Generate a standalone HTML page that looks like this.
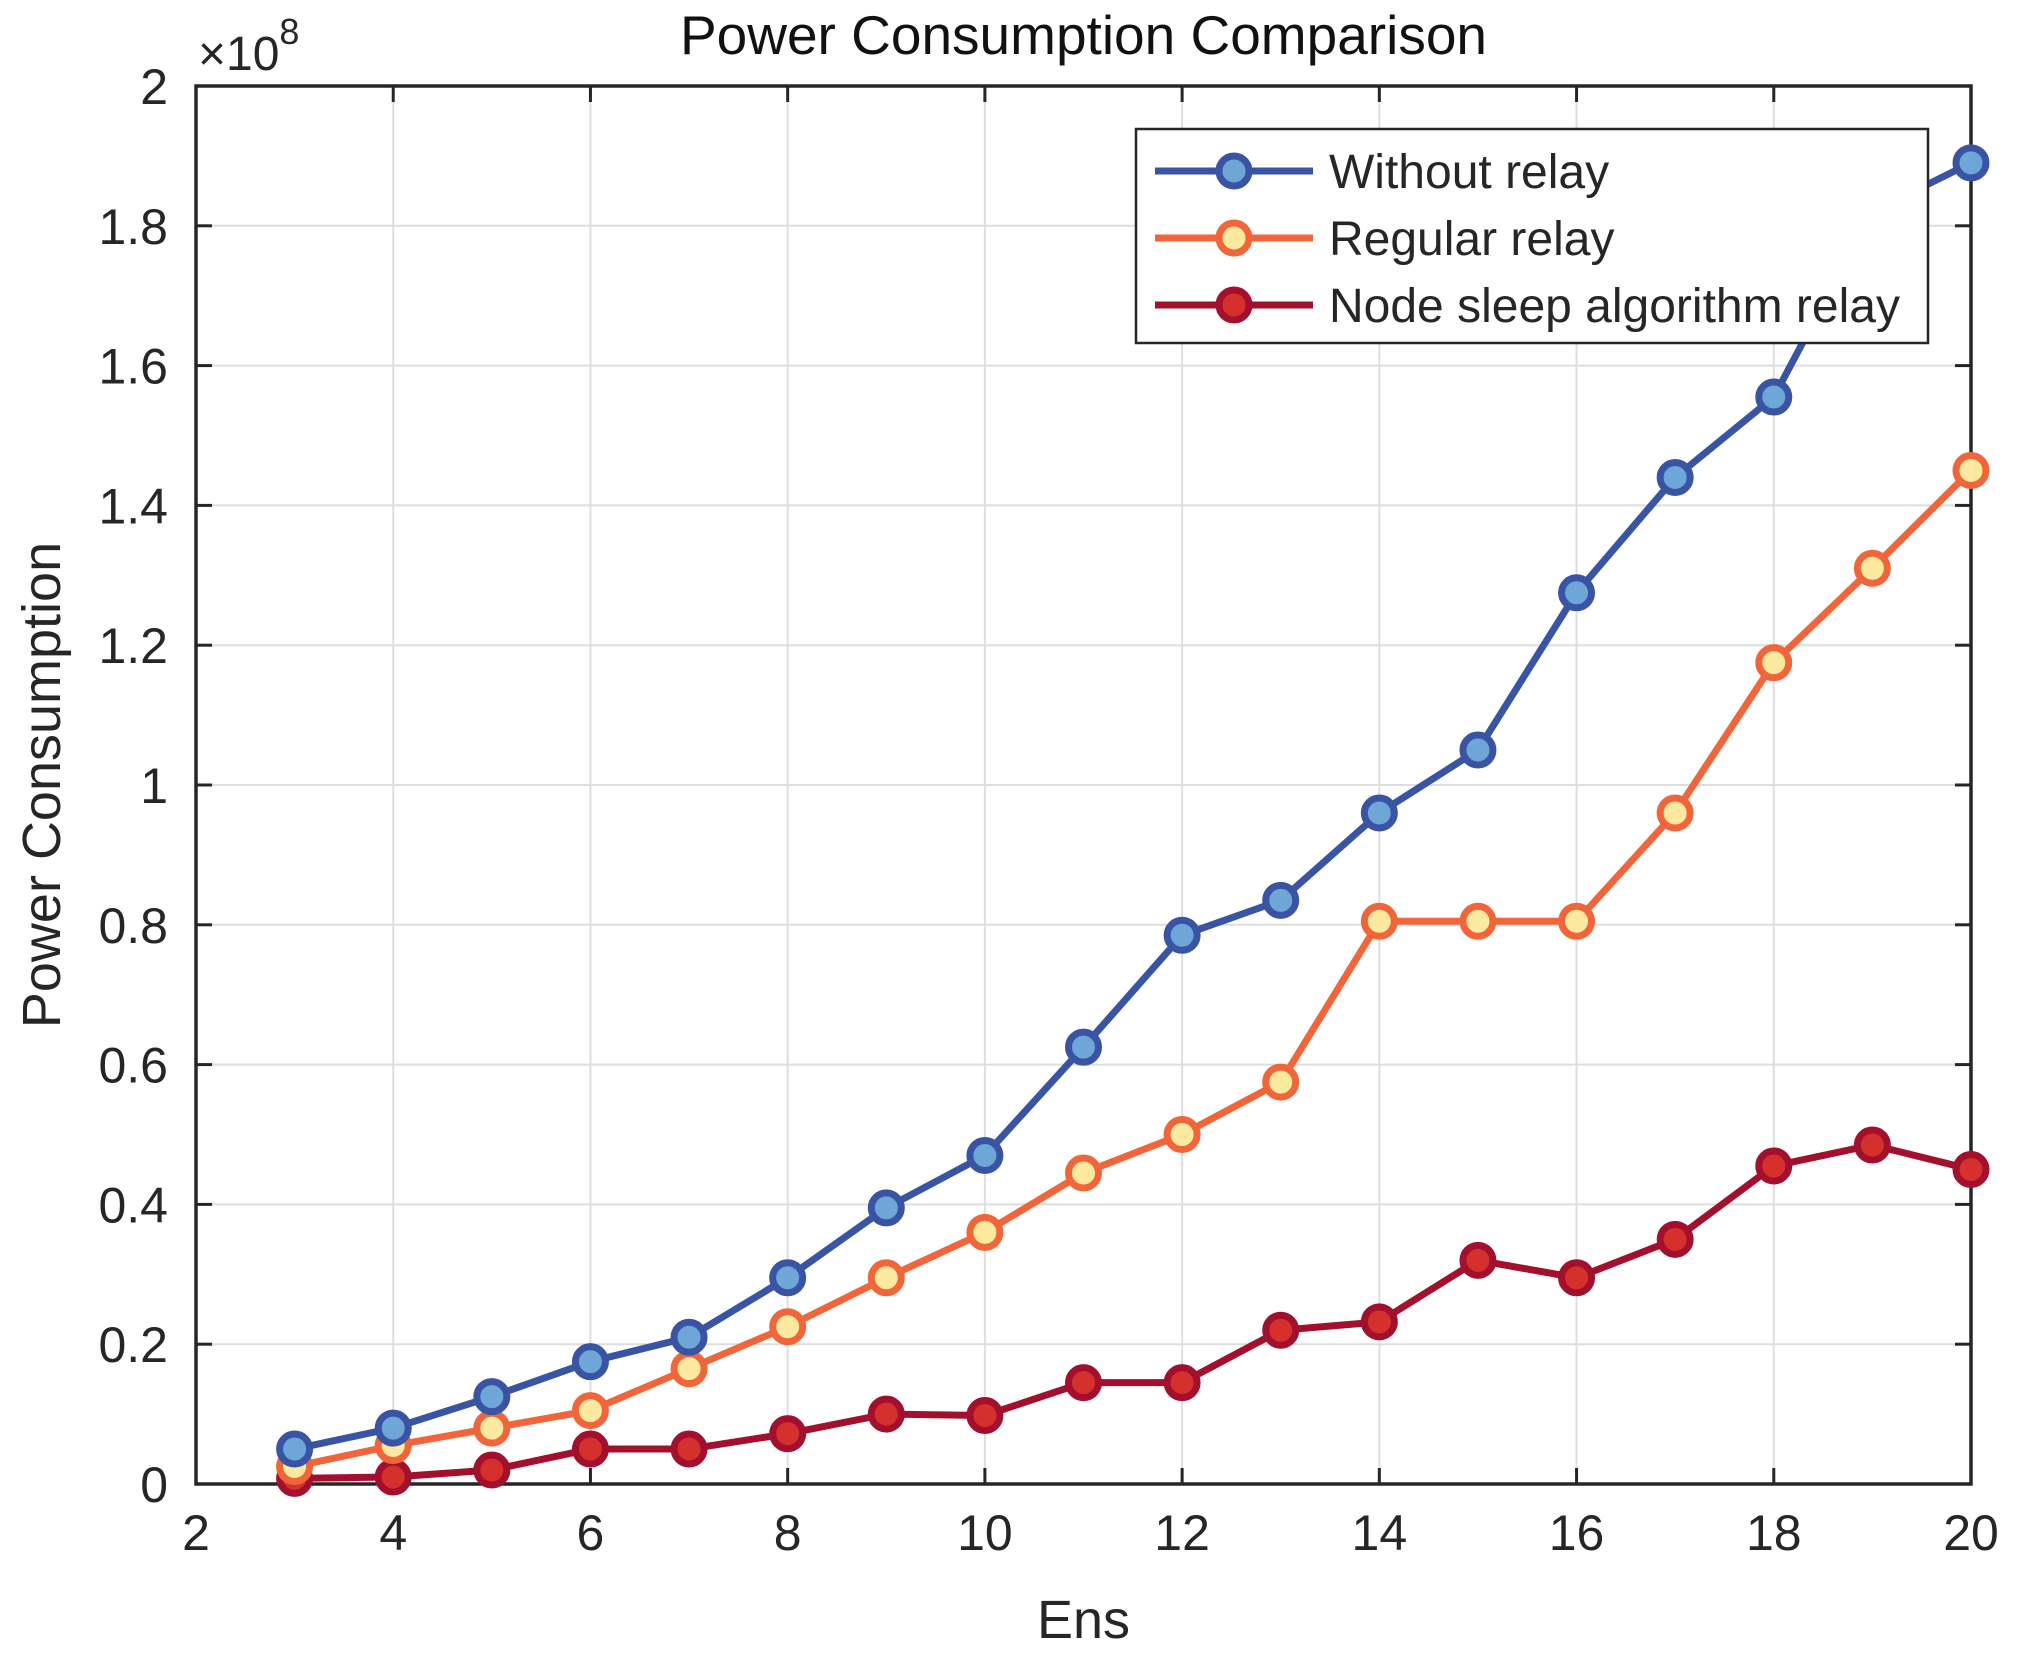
<!DOCTYPE html>
<html><head><meta charset="utf-8"><style>
html,body{margin:0;padding:0;background:#fff}
svg{display:block;font-family:"Liberation Sans",sans-serif}
</style></head><body>
<svg id="chart" width="2017" height="1658" viewBox="0 0 2017 1658"></svg>
<script>
const categories=[3,4,5,6,7,8,9,10,11,12,13,14,15,16,17,18,19,20];
const withoutRelay=[0.05,0.08,0.125,0.175,0.21,0.295,0.395,0.47,0.625,0.785,0.835,0.96,1.05,1.275,1.44,1.555,1.82,1.89];
const regularRelay=[0.025,0.055,0.08,0.105,0.165,0.225,0.295,0.36,0.445,0.5,0.575,0.805,0.805,0.805,0.96,1.175,1.31,1.45];
const nodeSleepRelay=[0.008,0.01,0.02,0.05,0.05,0.072,0.1,0.098,0.145,0.145,0.22,0.232,0.32,0.295,0.35,0.455,0.485,0.45];
const xTicks=[2,4,6,8,10,12,14,16,18,20];
const yTicks=[0,0.2,0.4,0.6,0.8,1,1.2,1.4,1.6,1.8,2];
const yTickLabels=["0","0.2","0.4","0.6","0.8","1","1.2","1.4","1.6","1.8","2"];

const L=196,R=1971,T=86,B=1484;
const sx=v=>L+(v-2)/(20-2)*(R-L);
const sy=v=>B-v/2*(B-T);
const svg=document.getElementById('chart');
const NS='http://www.w3.org/2000/svg';
function mk(tag,attrs,parent){const e=document.createElementNS(NS,tag);for(const k in attrs)e.setAttribute(k,attrs[k]);(parent||svg).appendChild(e);return e;}

const grid=mk('g',{});


xTicks.forEach(t=>{mk('line',{x1:sx(t),x2:sx(t),y1:T,y2:B,stroke:'#dedede','stroke-width':2},grid);});
yTicks.forEach(t=>{mk('line',{x1:L,x2:R,y1:sy(t),y2:sy(t),stroke:'#dedede','stroke-width':2},grid);});

const box=mk('rect',{x:L,y:T,width:R-L,height:B-T,fill:'none',stroke:'#262626','stroke-width':3.5});



const xt=mk('g',{});


xTicks.forEach(t=>{
  mk('line',{x1:sx(t),x2:sx(t),y1:B,y2:B-16,stroke:'#262626','stroke-width':3},xt);
  mk('line',{x1:sx(t),x2:sx(t),y1:T,y2:T+16,stroke:'#262626','stroke-width':3},xt);
  const tx=mk('text',{x:sx(t),y:B+66,'font-size':50,'text-anchor':'middle',fill:'#262626'},xt);
  tx.textContent=t;
});
const yt=mk('g',{});


yTicks.forEach((t,i)=>{
  mk('line',{x1:L,x2:L+16,y1:sy(t),y2:sy(t),stroke:'#262626','stroke-width':3},yt);
  mk('line',{x1:R,x2:R-16,y1:sy(t),y2:sy(t),stroke:'#262626','stroke-width':3},yt);
  const tx=mk('text',{x:L-28,y:sy(t)+18,'font-size':50,'text-anchor':'end',fill:'#262626'},yt);
  tx.textContent=yTickLabels[i];
});
const ex=mk('text',{x:198,y:70,'font-size':48,fill:'#262626'});


ex.innerHTML='×10<tspan dy="-26" font-size="36">8</tspan>';

const title=mk('text',{x:(L+R)/2,y:54,'font-size':55,'text-anchor':'middle',fill:'#111'});


title.textContent='Power Consumption Comparison';
const xl=mk('text',{x:(L+R)/2,y:1638,'font-size':54,'text-anchor':'middle',fill:'#262626'});


xl.textContent='Ens';
const yl=mk('text',{x:60,y:(T+B)/2,'font-size':54,'text-anchor':'middle',fill:'#262626',transform:`rotate(-90 60 ${(T+B)/2})`});


yl.textContent='Power Consumption';

const series=[
 {name:'without-relay',data:withoutRelay,line:'#3a54a4',fill:'#6fa6d8',label:'Without relay'},
 {name:'regular-relay',data:regularRelay,line:'#f0663a',fill:'#fde8a0',label:'Regular relay'},
 {name:'node-sleep-relay',data:nodeSleepRelay,line:'#a3102e',fill:'#d6302c',label:'Node sleep algorithm relay'}
];
series.slice().reverse().forEach(s=>{
  const g=mk('g',{});
  
  
  const pl=mk('polyline',{points:categories.map((c,i)=>sx(c)+','+sy(s.data[i])).join(' '),fill:'none',stroke:s.line,'stroke-width':7,'stroke-linejoin':'round'},g);
  
  
  categories.forEach((c,i)=>{
    const m=mk('circle',{cx:sx(c),cy:sy(s.data[i]),r:15,fill:s.fill,stroke:s.line,'stroke-width':7},g);
    
    
  });
});

const lg=mk('g',{});


mk('rect',{x:1136,y:129,width:792,height:214,fill:'#fff',stroke:'#262626','stroke-width':2.5},lg);
series.forEach((s,i)=>{
  const y=171+i*67;
  const e=mk('g',{},lg);
  
  
  mk('line',{x1:1155,x2:1313,y1:y,y2:y,stroke:s.line,'stroke-width':7},e);
  mk('circle',{cx:1234,cy:y,r:15,fill:s.fill,stroke:s.line,'stroke-width':7},e);
  const t=mk('text',{x:1329,y:y+17,'font-size':48,fill:'#262626'},e);
  t.textContent=s.label;
});
</script>
</body></html>
